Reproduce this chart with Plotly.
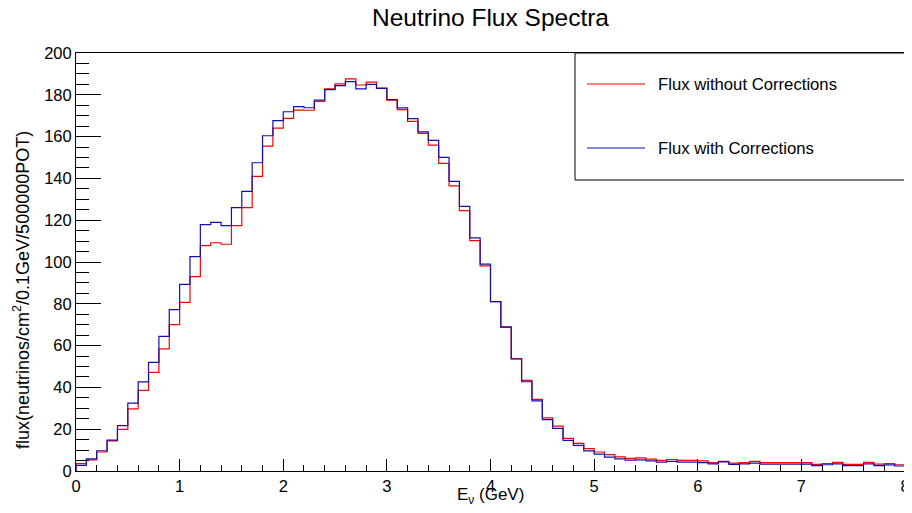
import numpy as np
import plotly.graph_objects as go

# ---------------- data ----------------
energy_min = 0.0
energy_max = 8.0
n_bins = 80

flux_without_corrections = [
    3.5, 5.3, 9.1, 14.4, 19.9, 29.7, 38.6, 47.2, 58.4, 70.0,
    80.7, 93.0, 107.8, 109.2, 108.5, 117.4, 126.0, 141.0, 155.4, 164.1,
    168.7, 172.7, 172.6, 176.8, 182.8, 185.2, 187.6, 184.7, 186.1, 183.2,
    177.5, 172.9, 167.3, 161.5, 155.9, 147.2, 136.4, 124.6, 110.2, 98.1,
    81.0, 68.7, 53.8, 43.4, 34.3, 25.4, 21.5, 15.6, 13.2, 10.7,
    9.1, 7.8, 6.8, 6.0, 6.3, 5.7, 5.1, 5.5, 5.1, 5.1,
    4.8, 4.0, 4.6, 3.8, 4.0, 4.6, 4.0, 4.0, 4.0, 4.0,
    4.0, 3.2, 3.6, 4.1, 3.2, 3.2, 4.1, 3.3, 3.6, 3.0,
]

flux_with_corrections = [
    2.7, 5.8, 9.7, 14.8, 21.7, 32.5, 42.6, 52.0, 64.4, 77.2,
    89.3, 102.6, 117.9, 119.0, 117.4, 126.0, 133.8, 147.5, 160.4, 167.6,
    171.9, 174.3, 173.8, 177.5, 182.5, 184.4, 186.3, 182.8, 185.0, 183.1,
    177.7, 173.7, 168.6, 162.3, 158.2, 150.1, 138.6, 126.6, 111.5, 99.0,
    81.0, 69.0, 53.6, 42.7, 33.6, 24.6, 20.4, 14.7, 12.3, 9.6,
    8.1, 6.6, 5.8, 5.2, 5.3, 4.8, 4.2, 4.6, 4.2, 4.2,
    4.0, 3.4, 4.4, 3.2, 3.4, 3.8, 3.3, 3.3, 3.3, 3.3,
    3.3, 2.6, 3.0, 3.4, 2.6, 2.6, 3.4, 2.6, 2.9, 2.4,
]

series_names = ["Flux without Corrections", "Flux with Corrections"]
series_colors = ["#ff0000", "#1010b0"]

title_text = "Neutrino Flux Spectra"
x_title = "E<sub>ν</sub> (GeV)"
y_title = "flux(neutrinos/cm<sup>2</sup>/0.1GeV/500000POT)"

# ---------------- build ----------------
edges = np.linspace(energy_min, energy_max, n_bins + 1)
FONT = "Liberation Sans, Arial, Helvetica, sans-serif"
OFF = 8                      # default page body margin
W, H = 912 - OFF, 513 - OFF
ML, MR, MT, MB = 76 - OFF, 7, 53 - OFF, 42
PW, PH = W - ML - MR, H - MT - MB


def px_x(p):                 # page pixel -> paper x
    return (p - OFF - ML) / PW


def px_y(p):                 # page pixel -> paper y
    return (H - MB - (p - OFF)) / PH


def step_xy(vals):
    xs = [edges[0]] + list(edges[:-1]) + [edges[-1], edges[-1]]
    ys = [0] + list(vals) + [vals[-1], 0]
    return xs, ys


fig = go.Figure()
for name, vals, col in zip(series_names,
                           [flux_without_corrections, flux_with_corrections],
                           series_colors):
    xs, ys = step_xy(vals)
    fig.add_trace(go.Scatter(x=xs, y=ys, mode="lines", name=name,
                             line=dict(color=col, width=1.2, shape="hv"),
                             showlegend=False, hoverinfo="skip"))

# manual ROOT-style legend box
fig.add_shape(type="rect", xref="paper", yref="paper",
              x0=px_x(575), x1=1.0, y0=px_y(180), y1=1.0,
              line=dict(color="black", width=1), fillcolor="white", layer="above")
for name, col, ypx in zip(series_names, series_colors, [84, 148]):
    yy = px_y(ypx)
    fig.add_shape(type="line", xref="paper", yref="paper",
                  x0=px_x(587), x1=px_x(645), y0=yy, y1=yy,
                  line=dict(color=col, width=1.2), layer="above")
    fig.add_annotation(xref="paper", yref="paper", x=px_x(656), y=yy, text=name,
                       showarrow=False, xanchor="left", yanchor="middle",
                       font=dict(family=FONT, size=16.7, color="black"))

# axis titles as annotations for exact ROOT-like placement
fig.add_annotation(xref="paper", yref="paper", x=0.5, y=px_y(496), text=x_title,
                   showarrow=False, xanchor="center", yanchor="middle",
                   font=dict(family=FONT, size=17, color="black"))
fig.add_annotation(xref="paper", yref="paper", x=px_x(21), y=px_y(290), text=y_title,
                   showarrow=False, xanchor="center", yanchor="middle", textangle=-90,
                   font=dict(family=FONT, size=18, color="black"))

fig.update_layout(
    width=W, height=H,
    margin=dict(l=ML, r=MR, t=MT, b=MB, autoexpand=False),
    paper_bgcolor="white", plot_bgcolor="white",
    title=dict(text=title_text, x=0.5, xref="paper", xanchor="center",
               y=1 - (17 - OFF) / H, yanchor="middle",
               font=dict(family=FONT, size=24.5, color="black")),
    font=dict(family=FONT, color="black"),
)

fig.update_xaxes(
    range=[energy_min, energy_max], showgrid=False, zeroline=False, automargin=False,
    showline=True, linecolor="black", linewidth=1, mirror=True,
    ticks="inside", ticklen=12, tickcolor="black", dtick=1, tick0=0,
    minor=dict(dtick=0.2, ticks="inside", ticklen=6, tickcolor="black"),
    tickfont=dict(family=FONT, size=16.5, color="black"),
)
fig.update_yaxes(
    range=[0, 200], showgrid=False, zeroline=False, automargin=False,
    showline=True, linecolor="black", linewidth=1, mirror=True,
    ticks="inside", ticklen=25, tickcolor="black", dtick=20, tick0=0,
    minor=dict(dtick=5, ticks="inside", ticklen=13, tickcolor="black"),
    tickfont=dict(family=FONT, size=16.5, color="black"),
)

fig.write_html("out.html")
